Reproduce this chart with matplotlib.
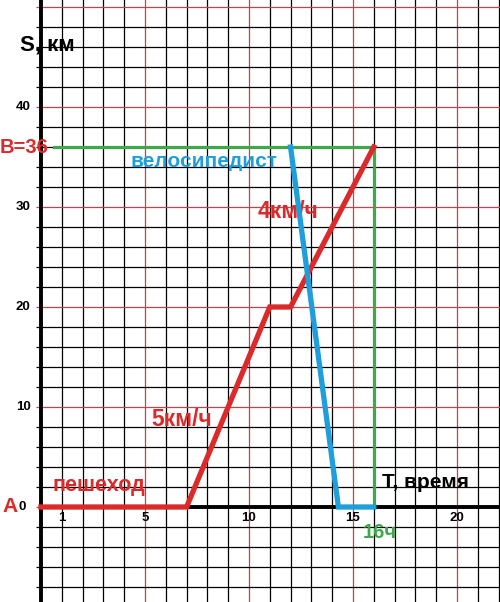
import numpy as np
import matplotlib
matplotlib.use("Agg")
import matplotlib.pyplot as plt

# ---------------- DATA ----------------
walker_t = [0, 7, 11, 12, 16]
walker_s = [0, 0, 20, 20, 36]

cyclist_t = [12, 14.3, 16]
cyclist_s = [36, 0, 0]

guide_t = [0.65, 16, 16]
guide_s = [36, 36, 0]

x_ticks = [1, 5, 10, 15, 20]
y_ticks = [10, 20, 30, 40]

# ---------------- STYLE ----------------
RED = "#dc2a2a"
BLUE = "#1e9fdc"
GREEN = "#3ea84a"
GRID_RED = "#c8404c"
FONT = "Liberation Sans"

XMIN, XMAX = -1.97, 22.07
YMIN, YMAX = -9.5, 50.7

plt.rcParams["font.family"] = [FONT, "DejaVu Sans"]

fig = plt.figure(figsize=(5.0, 6.02), dpi=100)
ax = fig.add_axes([0, 0, 1, 1])
ax.set_xlim(XMIN, XMAX)
ax.set_ylim(YMIN, YMAX)
ax.axis("off")

# grid (cells: 1 hour x 2 km, red every 5 h / 10 km)
for x in range(0, 23):
    c = GRID_RED if x % 5 == 0 else "black"
    ax.axvline(x, color=c, lw=0.9, zorder=1)
for y in range(-8, 51, 2):
    c = GRID_RED if y % 10 == 0 else "black"
    ax.hlines(y, -0.25, XMAX, color=c, lw=0.9, zorder=1)

# axes
ax.axvline(0, color="black", lw=2.8, zorder=2)
ax.hlines(0, 0, XMAX, color="black", lw=2.8, zorder=2)

# lines
ax.plot(guide_t, guide_s, color=GREEN, lw=2.3, zorder=3)
ax.plot(walker_t, walker_s, color=RED, lw=3.8, zorder=4,
        solid_joinstyle="miter")
ax.plot(cyclist_t, cyclist_s, color=BLUE, lw=3.8, zorder=5,
        solid_joinstyle="miter")

# tick labels
for x in x_ticks:
    ax.text(x, -1.1, str(x), ha="center", va="center", fontsize=9.5,
            fontweight="bold", zorder=6)
for y in y_ticks:
    ax.text(-0.85, y, str(y), ha="center", va="center", fontsize=9.5,
            fontweight="bold", zorder=6)
ax.text(-0.9, 0, "0", ha="center", va="center", fontsize=9.5,
        fontweight="bold")

# labels
ax.text(-1.0, 46.2, "S, км", ha="left", va="center", fontsize=16,
        fontweight="bold")
ax.text(16.4, 2.4, "T, время", ha="left", va="center", fontsize=15,
        fontweight="bold")
ax.text(-1.85, 0, "A", ha="left", va="center", fontsize=15,
        fontweight="bold", color=RED)
ax.text(-1.97, 36, "B=36", ha="left", va="center", fontsize=14.5,
        fontweight="bold", color=RED)
ax.text(0.55, 2.1, "пешеход", ha="left", va="center", fontsize=15.5,
        fontweight="bold", color=RED)
ax.text(5.3, 8.8, "5км/ч", ha="left", va="center", fontsize=16.5,
        fontweight="bold", color=RED)
ax.text(10.4, 29.6, "4км/ч", ha="left", va="center", fontsize=16.5,
        fontweight="bold", color=RED)
ax.text(4.3, 34.6, "велосипедист", ha="left", va="center", fontsize=15,
        fontweight="bold", color=BLUE)
ax.text(15.45, -2.5, "16ч", ha="left", va="center", fontsize=14.5,
        fontweight="bold", color=GREEN)

fig.savefig("out.png", dpi=100)
